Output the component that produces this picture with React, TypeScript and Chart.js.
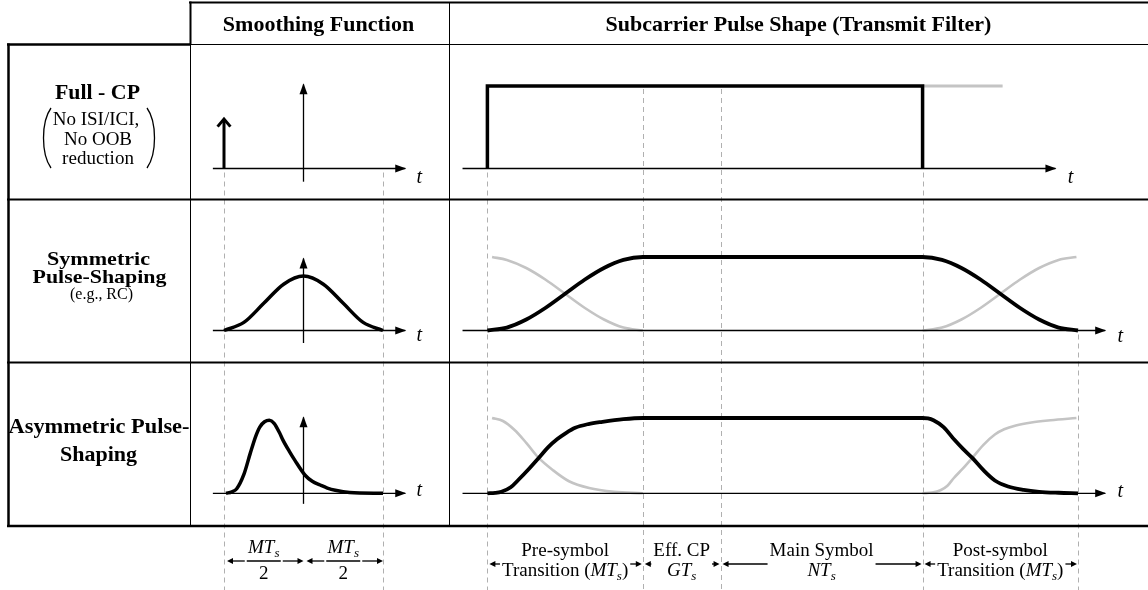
import React, { useEffect, useRef } from 'react';
import { Chart, registerables } from 'chart.js';
Chart.register(...registerables);

const W = 1148;
const H = 590;
const SERIF = '"Liberation Serif", "Times New Roman", serif';

// ---- time units (multiples of Ts) ----
const M = 2;
const G = 1;
const N = 2.6;
const pulseBounds = [0, M, M + G, M + G + N, 2 * M + G + N];
const smoothBounds = [-M / 2, M / 2];

// ---- smoothing-function column ----
const impulseT = [-1, -1];
const impulseV = [0, 0.6];
const bellT = [-1, -0.75, -0.5, -0.25, 0, 0.25, 0.5, 0.75, 1];
const bellV = [0, 0.11, 0.37, 0.63, 0.74, 0.63, 0.37, 0.11, 0];
const asymT = [-0.975, -0.9, -0.84, -0.75, -0.67, -0.6, -0.55, -0.49, -0.43, -0.37, -0.3, -0.26, -0.18, -0.11, 0.02, 0.11, 0.21, 0.3, 0.4, 0.58, 1];
const asymV = [0, 0.02, 0.06, 0.25, 0.53, 0.76, 0.88, 0.95, 0.97, 0.93, 0.8, 0.71, 0.56, 0.44, 0.24, 0.16, 0.11, 0.07, 0.04, 0.01, 0];

// ---- subcarrier pulse-shape column ----
const fullCpT = [0, 0, 5.6, 5.6];
const fullCpV = [0, 1, 1, 0];
const nextSymT = [5.6, 6.63];
const nextSymV = [1, 1];
const symBlackT = [0, 0.25, 0.5, 0.75, 1, 1.25, 1.5, 1.75, 2, 5.6, 5.85, 6.1, 6.35, 6.6, 6.85, 7.1, 7.35, 7.6];
const symBlackV = [0, 0.04, 0.15, 0.31, 0.5, 0.69, 0.85, 0.96, 1, 1, 0.96, 0.85, 0.69, 0.5, 0.31, 0.15, 0.04, 0];
const symGreyInT = [0.06, 0.25, 0.5, 0.75, 1, 1.25, 1.5, 1.75, 2];
const symGreyInV = [1, 0.96, 0.85, 0.69, 0.5, 0.31, 0.15, 0.04, 0];
const symGreyOutT = [5.6, 5.85, 6.1, 6.35, 6.6, 6.85, 7.1, 7.35, 7.58];
const symGreyOutV = [0, 0.04, 0.15, 0.31, 0.5, 0.69, 0.85, 0.96, 1];
const asymBlackT = [0, 0.1, 0.18, 0.3, 0.4, 0.53, 0.66, 0.78, 0.9, 1.01, 1.13, 1.3, 1.48, 1.75, 2,
  5.6, 5.67, 5.74, 5.87, 6.01, 6.12, 6.24, 6.38, 6.53, 6.7, 6.9, 7.1, 7.35, 7.6];
const asymBlackV = [0, 0.005, 0.02, 0.08, 0.18, 0.32, 0.47, 0.61, 0.72, 0.8, 0.87, 0.92, 0.95, 0.985, 1,
  1, 0.995, 0.97, 0.88, 0.71, 0.59, 0.47, 0.31, 0.17, 0.09, 0.045, 0.02, 0.007, 0];
const asymGreyInT = [0.06, 0.2, 0.35, 0.5, 0.66, 0.84, 1.05, 1.31, 1.63, 2];
const asymGreyInV = [1, 0.96, 0.84, 0.67, 0.47, 0.31, 0.16, 0.07, 0.02, 0];
const asymGreyOutT = [5.6, 5.72, 5.83, 5.92, 6.0, 6.12, 6.24, 6.38, 6.53, 6.65, 6.8, 7.0, 7.25, 7.58];
const asymGreyOutV = [0, 0.01, 0.04, 0.1, 0.2, 0.33, 0.47, 0.64, 0.78, 0.85, 0.9, 0.94, 0.97, 1];

// ---- axes (extent in data units) ----
const smoothAxisT = [-1.14, 1.28];
const pulseAxisT1 = [-0.32, 7.31];
const pulseAxisT2 = [-0.32, 7.95];
const vAxisA = [-0.16, 1.02];
const vAxisB = [-0.17, 0.98];
const vAxisC = [-0.14, 1.01];

// ---- texts ----
const headers = ['Smoothing Function', 'Subcarrier Pulse Shape (Transmit Filter)'];
const rowTitles = [['Full - CP'], ['Symmetric', 'Pulse-Shaping'], ['Asymmetric Pulse-', 'Shaping']];
const rowNotes = [['No ISI/ICI,', 'No OOB', 'reduction'], ['(e.g., RC)'], []];
const timeSymbol = 't';
const spanLabels = [
  { from: 0, to: M, l1: 'Pre-symbol', pre: 'Transition (', sym: 'MT', post: ')' },
  { from: M, to: M + G, l1: 'Eff. CP', pre: '', sym: 'GT', post: '' },
  { from: M + G, to: M + G + N, l1: 'Main Symbol', pre: '', sym: 'NT', post: '' },
  { from: M + G + N, to: 2 * M + G + N, l1: 'Post-symbol', pre: 'Transition (', sym: 'MT', post: ')' },
];

const BLACK = '#000000';
const GREY = '#c4c4c4';
const DASH = '#b0b0b0';

function xRange(v0: number, p0: number, v1: number, p1: number, total: number) {
  const k = (p1 - p0) / (v1 - v0);
  const min = v0 - p0 / k;
  return { min, max: min + total / k };
}
function yRange(v0: number, p0: number, v1: number, p1: number, total: number) {
  const k = (p0 - p1) / (v1 - v0);
  const min = v0 - (total - p0) / k;
  return { min, max: min + total / k };
}
function pts(xs: number[], ys: number[]) {
  return xs.map((x, i) => ({ x, y: ys[i] }));
}

function ds(data: any[], xAxisID: string, yAxisID: string, color: string, width: number, smooth: boolean, arrow?: string) {
  return {
    data,
    xAxisID,
    yAxisID,
    borderColor: color,
    backgroundColor: color,
    borderWidth: width,
    pointRadius: 0,
    pointHoverRadius: 0,
    fill: false,
    tension: 0,
    cubicInterpolationMode: smooth ? 'monotone' : 'default',
    borderJoinStyle: smooth ? 'round' : 'miter',
    arrow,
  } as any;
}

function drawRuns(ctx: CanvasRenderingContext2D, runs: { t: string; f: string; dy?: number }[], cx: number, y: number) {
  let total = 0;
  const ws = runs.map((r) => {
    ctx.font = r.f;
    const w = ctx.measureText(r.t).width;
    total += w;
    return w;
  });
  let x = cx - total / 2;
  ctx.textAlign = 'left';
  runs.forEach((r, i) => {
    ctx.font = r.f;
    ctx.fillText(r.t, x, y + (r.dy || 0));
    x += ws[i];
  });
  return total;
}

// centred text, stretched horizontally to a given width
function stretchText(ctx: CanvasRenderingContext2D, text: string, font: string, cx: number, y: number, width: number) {
  ctx.font = font;
  const w = ctx.measureText(text).width;
  ctx.save();
  ctx.translate(cx, y);
  ctx.scale(width / w, 1);
  ctx.textAlign = 'center';
  ctx.fillText(text, 0, 0);
  ctx.restore();
}

function smallArrow(ctx: CanvasRenderingContext2D, tail: number, tip: number, y: number) {
  const dir = tip > tail ? 1 : -1;
  ctx.beginPath();
  ctx.moveTo(tail, y);
  ctx.lineTo(tip - dir * 4, y);
  ctx.stroke();
  ctx.beginPath();
  ctx.moveTo(tip, y);
  ctx.lineTo(tip - dir * 6, y - 3);
  ctx.lineTo(tip - dir * 6, y + 3);
  ctx.closePath();
  ctx.fill();
}

const diagramPlugin = {
  id: 'diagram',
  beforeDatasetsDraw(chart: any) {
    const ctx: CanvasRenderingContext2D = chart.ctx;
    const s = chart.scales;
    ctx.save();
    // dashed guides
    ctx.strokeStyle = DASH;
    ctx.lineWidth = 1;
    ctx.setLineDash([5, 4]);
    const vline = (x: number, y0: number, y1: number) => {
      const xx = Math.round(x) + 0.5;
      ctx.beginPath();
      ctx.moveTo(xx, y0);
      ctx.lineTo(xx, y1);
      ctx.stroke();
    };
    const axisA = s.yA.getPixelForValue(0) + 4;
    const topA = s.yA.getPixelForValue(1) + 3;
    const axisB = s.yB.getPixelForValue(0) + 4;
    smoothBounds.forEach((v) => vline(s.xS.getPixelForValue(v), axisA, H));
    const starts = [axisA, topA, topA, axisA, axisB];
    pulseBounds.forEach((v, i) => vline(s.xP.getPixelForValue(v), starts[i], H));
    ctx.setLineDash([]);

    // table
    ctx.strokeStyle = BLACK;
    const line = (x0: number, y0: number, x1: number, y1: number, w: number) => {
      ctx.lineWidth = w;
      ctx.beginPath();
      ctx.moveTo(x0, y0);
      ctx.lineTo(x1, y1);
      ctx.stroke();
    };
    line(189, 2.5, W, 2.5, 2);
    line(190.5, 1.5, 190.5, 44, 2);
    line(7, 44.5, 190, 44.5, 2.5);
    line(190, 44.5, W, 44.5, 1);
    line(8.5, 43.5, 8.5, 527, 2.5);
    line(190.5, 44, 190.5, 526, 1);
    line(449.5, 2, 449.5, 526, 1);
    line(7, 199.5, W, 199.5, 2);
    line(7, 362.5, W, 362.5, 2);
    line(7, 526, W, 526, 2.5);
    ctx.restore();
  },
  afterDatasetsDraw(chart: any) {
    const ctx: CanvasRenderingContext2D = chart.ctx;
    const s = chart.scales;
    ctx.save();
    // arrowheads
    chart.data.datasets.forEach((d: any, i: number) => {
      if (!d.arrow) return;
      const meta = chart.getDatasetMeta(i);
      const p = meta.data;
      const a = p[p.length - 1];
      const b = p[p.length - 2];
      const ang = Math.atan2(a.y - b.y, a.x - b.x);
      const c = Math.cos(ang);
      const sn = Math.sin(ang);
      ctx.fillStyle = BLACK;
      ctx.strokeStyle = BLACK;
      if (d.arrow === 'fill') {
        const L = 10;
        const hw = 4;
        ctx.beginPath();
        ctx.moveTo(a.x + c * 1, a.y + sn * 1);
        ctx.lineTo(a.x - c * L - sn * hw, a.y - sn * L + c * hw);
        ctx.lineTo(a.x - c * L + sn * hw, a.y - sn * L - c * hw);
        ctx.closePath();
        ctx.fill();
      } else {
        const L = 10;
        const th = (40 * Math.PI) / 180;
        ctx.lineWidth = 3;
        ctx.lineJoin = 'miter';
        ctx.beginPath();
        ctx.moveTo(a.x - L * Math.cos(ang - th), a.y - L * Math.sin(ang - th));
        ctx.lineTo(a.x, a.y);
        ctx.lineTo(a.x - L * Math.cos(ang + th), a.y - L * Math.sin(ang + th));
        ctx.stroke();
      }
    });

    ctx.fillStyle = BLACK;
    ctx.strokeStyle = BLACK;
    ctx.textBaseline = 'alphabetic';
    ctx.textAlign = 'center';
    // headers
    ctx.font = `bold 22px ${SERIF}`;
    ctx.fillText(headers[0], 318.5, 31);
    ctx.fillText(headers[1], 798.5, 31);

    // row labels
    const LX = 98;
    stretchText(ctx, rowTitles[0][0], `bold 21px ${SERIF}`, 97.5, 99, 85);
    ctx.font = `19px ${SERIF}`;
    rowNotes[0].forEach((t, i) => ctx.fillText(t, LX - (i === 0 ? 2 : 0), [125, 145, 164][i]));
    ctx.lineWidth = 1.3;
    ctx.beginPath();
    ctx.moveTo(51, 108);
    ctx.bezierCurveTo(41, 122, 41, 154, 51, 168);
    ctx.moveTo(147, 108);
    ctx.bezierCurveTo(157, 122, 157, 154, 147, 168);
    ctx.stroke();

    stretchText(ctx, rowTitles[1][0], `bold 19px ${SERIF}`, 98.5, 265, 103);
    stretchText(ctx, rowTitles[1][1], `bold 19px ${SERIF}`, 99.5, 282.5, 134);
    stretchText(ctx, rowNotes[1][0], `16px ${SERIF}`, 101.5, 299, 63);
    stretchText(ctx, rowTitles[2][0], `bold 20px ${SERIF}`, 99, 433, 181);
    stretchText(ctx, rowTitles[2][1], `bold 20px ${SERIF}`, 98.5, 461, 77);

    // t labels
    ctx.textAlign = 'center';
    ctx.font = `italic 20px ${SERIF}`;
    const tOff = [14, 10, 3];
    const rowsY = [s.yA, s.yB, s.yC];
    rowsY.forEach((ys: any, r: number) => {
      const yy = ys.getPixelForValue(0) + tOff[r];
      ctx.fillText(timeSymbol, s.xS.getPixelForValue(smoothAxisT[1]) + 14, yy);
      const pa = r === 0 ? pulseAxisT1 : pulseAxisT2;
      ctx.fillText(timeSymbol, s.xP.getPixelForValue(pa[1]) + 15, yy + (r === 0 ? 0 : 1));
    });

    // bottom: smoothing span fractions
    const reg = `19px ${SERIF}`;
    const ita = `italic 19px ${SERIF}`;
    const sub = `italic 13px ${SERIF}`;
    ctx.lineWidth = 1.3;
    const fy = 561;
    [[smoothBounds[0], 0], [0, smoothBounds[1]]].forEach(([a, b]) => {
      const xa = s.xS.getPixelForValue(a);
      const xb = s.xS.getPixelForValue(b);
      const cx = (xa + xb) / 2;
      drawRuns(ctx, [{ t: 'MT', f: ita }, { t: 's', f: sub, dy: 4 }], cx, 553);
      ctx.textAlign = 'center';
      ctx.font = reg;
      ctx.fillText('2', cx, 579);
      ctx.lineWidth = 1.6;
      ctx.beginPath();
      ctx.moveTo(cx - 17, fy);
      ctx.lineTo(cx + 17, fy);
      ctx.stroke();
      ctx.lineWidth = 1.3;
      smallArrow(ctx, cx - 19, xa + 3, fy);
      smallArrow(ctx, cx + 19, xb, fy);
    });

    // bottom: pulse span labels
    const ay = 564;
    spanLabels.forEach((sp) => {
      const xa = s.xP.getPixelForValue(sp.from);
      const xb = s.xP.getPixelForValue(sp.to);
      const cx = (xa + xb) / 2;
      ctx.textAlign = 'center';
      ctx.font = reg;
      ctx.fillText(sp.l1, cx, 556);
      const w1 = ctx.measureText(sp.l1).width;
      const runs: any[] = [];
      if (sp.pre) runs.push({ t: sp.pre, f: reg });
      runs.push({ t: sp.sym, f: ita });
      runs.push({ t: 's', f: sub, dy: 4 });
      if (sp.post) runs.push({ t: sp.post, f: reg });
      const w2 = drawRuns(ctx, runs, cx, 576);
      const hw = Math.max(w1, w2) / 2 + 2;
      ctx.lineWidth = 1.3;
      smallArrow(ctx, cx - hw, xa + 2, ay);
      smallArrow(ctx, cx + hw, xb - 1, ay);
    });
    ctx.restore();
  },
};

const sR = xRange(-1, 224, 1, 383, W);
const pR = xRange(0, 487.4, 7.6, 1078, W);
const yAR = yRange(0, 168.5, 1, 86, H);
const yBR = yRange(0, 330.5, 1, 257, H);
const yCR = yRange(0, 493.3, 1, 418, H);

function scale(axis: string, r: { min: number; max: number }) {
  return {
    type: 'linear',
    axis,
    display: false,
    bounds: 'data',
    min: r.min,
    max: r.max,
    grid: { display: false },
    ticks: { display: false },
  } as any;
}

const datasets = [
  // black marks (drawn on top)
  ds(pts(impulseT, impulseV), 'xS', 'yA', BLACK, 3, false, 'chevron'),
  ds(pts(bellT, bellV), 'xS', 'yB', BLACK, 3.5, true),
  ds(pts(asymT, asymV), 'xS', 'yC', BLACK, 3.5, true),
  ds(pts(fullCpT, fullCpV), 'xP', 'yA', BLACK, 3.5, false),
  ds(pts(symBlackT, symBlackV), 'xP', 'yB', BLACK, 3.8, true),
  ds(pts(asymBlackT, asymBlackV), 'xP', 'yC', BLACK, 3.8, true),
  // axes
  ds(pts(smoothAxisT, [0, 0]), 'xS', 'yA', BLACK, 1.3, false, 'fill'),
  ds(pts([0, 0], vAxisA), 'xS', 'yA', BLACK, 1.3, false, 'fill'),
  ds(pts(smoothAxisT, [0, 0]), 'xS', 'yB', BLACK, 1.3, false, 'fill'),
  ds(pts([0, 0], vAxisB), 'xS', 'yB', BLACK, 1.3, false, 'fill'),
  ds(pts(smoothAxisT, [0, 0]), 'xS', 'yC', BLACK, 1.3, false, 'fill'),
  ds(pts([0, 0], vAxisC), 'xS', 'yC', BLACK, 1.3, false, 'fill'),
  ds(pts(pulseAxisT1, [0, 0]), 'xP', 'yA', BLACK, 1.3, false, 'fill'),
  ds(pts(pulseAxisT2, [0, 0]), 'xP', 'yB', BLACK, 1.3, false, 'fill'),
  ds(pts(pulseAxisT2, [0, 0]), 'xP', 'yC', BLACK, 1.3, false, 'fill'),
  // grey neighbouring-symbol marks (drawn underneath)
  ds(pts(nextSymT, nextSymV), 'xP', 'yA', GREY, 3, false),
  ds(pts(symGreyInT, symGreyInV), 'xP', 'yB', GREY, 2.6, true),
  ds(pts(symGreyOutT, symGreyOutV), 'xP', 'yB', GREY, 2.6, true),
  ds(pts(asymGreyInT, asymGreyInV), 'xP', 'yC', GREY, 2.6, true),
  ds(pts(asymGreyOutT, asymGreyOutV), 'xP', 'yC', GREY, 2.6, true),
];

export default function App() {
  const ref = useRef<HTMLCanvasElement>(null);
  useEffect(() => {
    if (!ref.current) return;
    const chart = new Chart(ref.current, {
      type: 'line',
      data: { datasets },
      options: {
        animation: false,
        responsive: false,
        devicePixelRatio: 1,
        layout: { padding: 0 },
        events: [],
        plugins: { legend: { display: false }, title: { display: false }, tooltip: { enabled: false } },
        scales: {
          xS: scale('x', sR),
          xP: scale('x', pR),
          yA: scale('y', yAR),
          yB: scale('y', yBR),
          yC: scale('y', yCR),
        },
      } as any,
      plugins: [diagramPlugin as any],
    });
    return () => chart.destroy();
  }, []);
  return (
    <div style={{ position: 'absolute', left: 0, top: 0, width: W, height: H, background: '#fff' }}>
      <canvas ref={ref} width={W} height={H} style={{ display: 'block', width: W, height: H }} />
    </div>
  );
}
